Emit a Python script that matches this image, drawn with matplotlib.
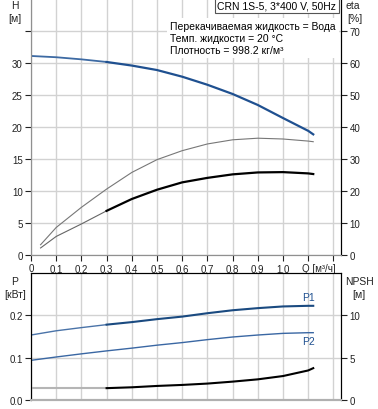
import matplotlib
matplotlib.use('Agg')
import matplotlib.pyplot as plt
import numpy as np

plt.rcParams['font.family'] = ['Liberation Sans', 'DejaVu Sans']
plt.rcParams['font.size'] = 7

# данные
q = [0.0, 0.1, 0.2, 0.3, 0.4, 0.5, 0.6, 0.7, 0.8, 0.9, 1.0, 1.1, 1.12]
h = [31.1, 30.9, 30.57, 30.16, 29.6, 28.9, 27.86, 26.6, 25.16, 23.44, 21.4, 19.4, 18.85]

q_eta = [0.038, 0.1, 0.2, 0.3, 0.4, 0.5, 0.6, 0.7, 0.8, 0.9, 1.0, 1.1, 1.12]
eta_p = [3.2, 8.6, 14.9, 20.6, 25.8, 29.8, 32.6, 34.7, 36.0, 36.5, 36.25, 35.6, 35.4]
eta_tot = [2.2, 5.8, 9.7, 13.8, 17.5, 20.4, 22.7, 24.1, 25.2, 25.8, 25.9, 25.5, 25.3]

p1 = [0.1535, 0.1635, 0.171, 0.178, 0.184, 0.191, 0.197, 0.205, 0.212, 0.217, 0.221, 0.2225, 0.2225]
p2 = [0.0937, 0.1016, 0.109, 0.116, 0.1225, 0.1295, 0.1356, 0.1426, 0.1488, 0.1535, 0.1574, 0.159, 0.159]
npsh = [1.4, 1.4, 1.4, 1.4, 1.5, 1.66, 1.78, 1.94, 2.17, 2.44, 2.83, 3.49, 3.76]

x_ticks = [0.0, 0.1, 0.2, 0.3, 0.4, 0.5, 0.6, 0.7, 0.8, 0.9, 1.0, 1.1, 1.2]
x_labels = ['0', '0,1', '0,2', '0,3', '0,4', '0,5', '0,6', '0,7', '0,8', '0,9', '1,0', '', '']

title = 'CRN 1S-5, 3*400 V, 50Hz'
info = ['Перекачиваемая жидкость = Вода', 'Темп. жидкости = 20 °C', 'Плотность = 998.2 кг/м³']

W, H = 378, 410
blue = '#1f5090'
grid_c = '#d2d2d2'


def px(x, y):
    return x / W, 1 - y / H


def split(xs, ys, q0=0.3):
    xs = np.asarray(xs); ys = np.asarray(ys)
    a = xs <= q0
    b = xs >= q0
    return (xs[a], ys[a]), (xs[b], ys[b])


fig = plt.figure(figsize=(W / 100, H / 100), dpi=100)
ax1 = fig.add_axes([31 / W, 154 / H, 310 / W, 256 / H])
ax2 = fig.add_axes([31 / W, 9 / H, 310 / W, (401 - 274) / H])

xmax = (341 - 31) / 252.0

# --- верхний график: напор и КПД ---
ax1.set_xlim(0, xmax)
ax1.set_ylim(0, 40)
ax1.set_xticks(x_ticks)
ax1.set_xticklabels(x_labels)
ax1.set_yticks(range(0, 40, 5))
ax1.set_yticklabels(['0', '5', '10', '15', '20', '25', '30', ''])
ax1.grid(True, color=grid_c, lw=1)
ax1.set_axisbelow(True)

(a, b) = split(q, h)
ax1.plot(a[0], a[1], color='#3d6aa3', lw=1.3, zorder=3)
ax1.plot(b[0], b[1], color=blue, lw=1.6, zorder=3)

ax1e = ax1.twinx()
ax1e.set_ylim(0, 80)
ax1e.set_yticks(range(0, 80, 10))
ax1e.plot(q_eta, eta_p, color='#777777', lw=0.8)
(a, b) = split(q_eta, eta_tot)
ax1e.plot(a[0], a[1], color='#666666', lw=0.8)
ax1e.plot(b[0], b[1], color='black', lw=1.6)

for ax in (ax1, ax1e):
    ax.spines['top'].set_visible(False)
    ax.spines['left'].set_color('#909090')
    ax.spines['bottom'].set_color('#909090')
    ax.spines['right'].set_color('black')
    ax.tick_params(length=4, width=0.8, pad=2, colors='#222222')

ax1.text(1.075, -1.2, 'Q [м³/ч]', ha='left', va='top', fontsize=7, color='#222222')

# легенда
ax1.text(0.985, 0.995, title, transform=ax1.transAxes, ha='right', va='top', fontsize=7.5,
         bbox=dict(boxstyle='square,pad=0.25', fc='white', ec='#555555', lw=0.8), zorder=5)
ax1.text(0.448, 0.915, '\n'.join(info), transform=ax1.transAxes, ha='left', va='top',
         fontsize=7.5, linespacing=1.25,
         bbox=dict(boxstyle='square,pad=0.3', fc='white', ec='none'), zorder=5)

# --- нижний график: мощность и NPSH ---
ax2.set_xlim(0, xmax)
ax2.set_ylim(0, 0.3)
ax2.set_xticks(x_ticks)
ax2.set_xticklabels([])
ax2.tick_params(axis='x', length=0)
ax2.set_yticks([0.0, 0.1, 0.2])
ax2.set_yticklabels(['0.0', '0.1', '0.2'])
ax2.grid(True, color=grid_c, lw=1)
ax2.set_axisbelow(True)

(a, b) = split(q, p1)
ax2.plot(a[0], a[1], color='#4a73a8', lw=1.0)
ax2.plot(b[0], b[1], color='#1a4a80', lw=1.5)
ax2.plot(q, p2, color='#3a67a3', lw=1.0)
ax2.text(1.1, p1[-2] + 0.008, 'P1', color=blue, fontsize=7.5, ha='center', va='bottom')
ax2.text(1.1, p2[-2] - 0.008, 'P2', color=blue, fontsize=7.5, ha='center', va='top')

ax2n = ax2.twinx()
ax2n.set_ylim(0, 15)
ax2n.set_yticks([0, 5, 10])
(a, b) = split(q, npsh)
ax2n.plot(a[0], a[1], color='#b5b5b5', lw=1.5)
ax2n.plot(b[0], b[1], color='black', lw=1.5)

for ax in (ax2, ax2n):
    ax.spines['top'].set_color('black')
    ax.spines['left'].set_color('black')
    ax.spines['right'].set_color('black')
    ax.spines['bottom'].set_color('#b0b0b0')
    ax.spines['bottom'].set_linewidth(1.5)
    ax.tick_params(axis='y', length=4, width=0.8, pad=2, colors='#222222')

# подписи осей
for x, y, s in [(15, 6, 'H'), (15, 19, '[м]'), (353, 6, 'eta'), (355, 19, '[%]'),
                (15, 282, 'P'), (15, 295, '[кВт]'), (359, 282, 'NPSH'), (359, 295, '[м]')]:
    fig.text(*px(x, y), s, ha='center', va='center', fontsize=7.5, color='#222222')

fig.savefig('out.png', dpi=100)
